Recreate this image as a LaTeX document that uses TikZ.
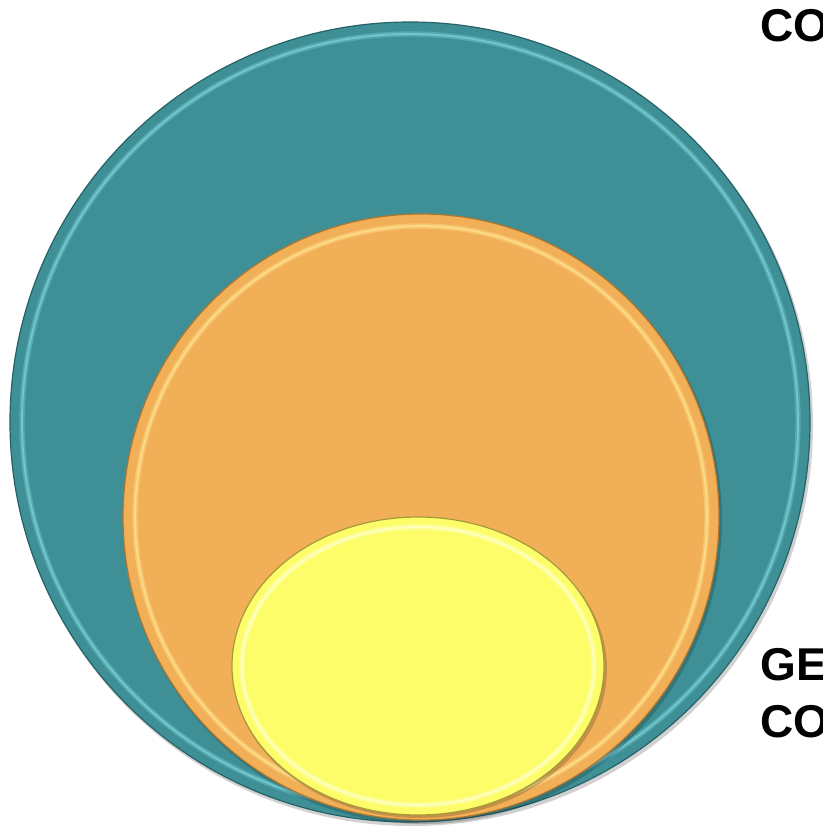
\documentclass[tikz,border=0pt]{standalone}
\usepackage{fontspec}
\setmainfont{Liberation Sans}
\usetikzlibrary{positioning}
\definecolor{tealbase}{RGB}{62,144,150}
\definecolor{tealrim}{RGB}{122,208,215}
\definecolor{tealedge}{RGB}{38,98,104}
\definecolor{orangebase}{RGB}{241,175,87}
\definecolor{orangerim}{RGB}{255,224,140}
\definecolor{orangeedge}{RGB}{172,118,48}
\definecolor{yellowbase}{RGB}{253,253,106}
\definecolor{yellowrim}{RGB}{255,255,196}
\definecolor{yellowedge}{RGB}{165,155,58}
\tikzset{
  discshadow/.style={fill=black,opacity=0.18},
  tealdisc/.style={fill=tealbase,draw=tealedge,line width=0.9pt},
  orangedisc/.style={fill=orangebase,draw=orangeedge,line width=0.9pt},
  yellowdisc/.style={fill=yellowbase,draw=yellowedge,line width=0.9pt},
  tealbevel/.style={draw=tealrim,line width=4pt,opacity=0.4},
  orangebevel/.style={draw=orangerim,line width=4pt,opacity=0.45},
  yellowbevel/.style={draw=yellowrim,line width=4pt,opacity=0.5},
  caption/.style={font=\bfseries\fontsize{34.5}{40}\selectfont,inner sep=0pt,anchor=base west}
}

\begin{document}
\begin{tikzpicture}[x=0.75pt,y=-0.75pt]
  \clip (0,0) rectangle (823,832);

  % outer teal disc
  \fill[discshadow] (412,425) ellipse [x radius=401, y radius=401];
  \filldraw[tealdisc] (410,422) ellipse [x radius=400, y radius=400];
  \draw[tealbevel] (410,422) ellipse [x radius=388, y radius=388];
  \draw[tealbevel,line width=1.3pt,opacity=0.8] (410,422) ellipse [x radius=388, y radius=388];

  % middle orange disc
  \fill[discshadow] (423,520) ellipse [x radius=299, y radius=304];
  \filldraw[orangedisc] (421,517) ellipse [x radius=298, y radius=303];
  \draw[orangebevel] (421,517) ellipse [x radius=286, y radius=291];
  \draw[orangebevel,line width=1.3pt,opacity=0.85] (421,517) ellipse [x radius=286, y radius=291];

  % inner yellow disc
  \fill[discshadow] (420,669) ellipse [x radius=187, y radius=149];
  \filldraw[yellowdisc] (418,666) ellipse [x radius=186, y radius=149];
  \draw[yellowbevel] (418,666) ellipse [x radius=176, y radius=139];
  \draw[yellowbevel,line width=1.3pt,opacity=0.85] (418,666) ellipse [x radius=176, y radius=139];

  % labels, cut by the right edge
  \node[caption] (topco) at (760,41) {CO};
  \node[caption] (ge) at (760,680) {GE};
  \node[caption] (botco) at (760,737) {CO};
\end{tikzpicture}
\end{document}
